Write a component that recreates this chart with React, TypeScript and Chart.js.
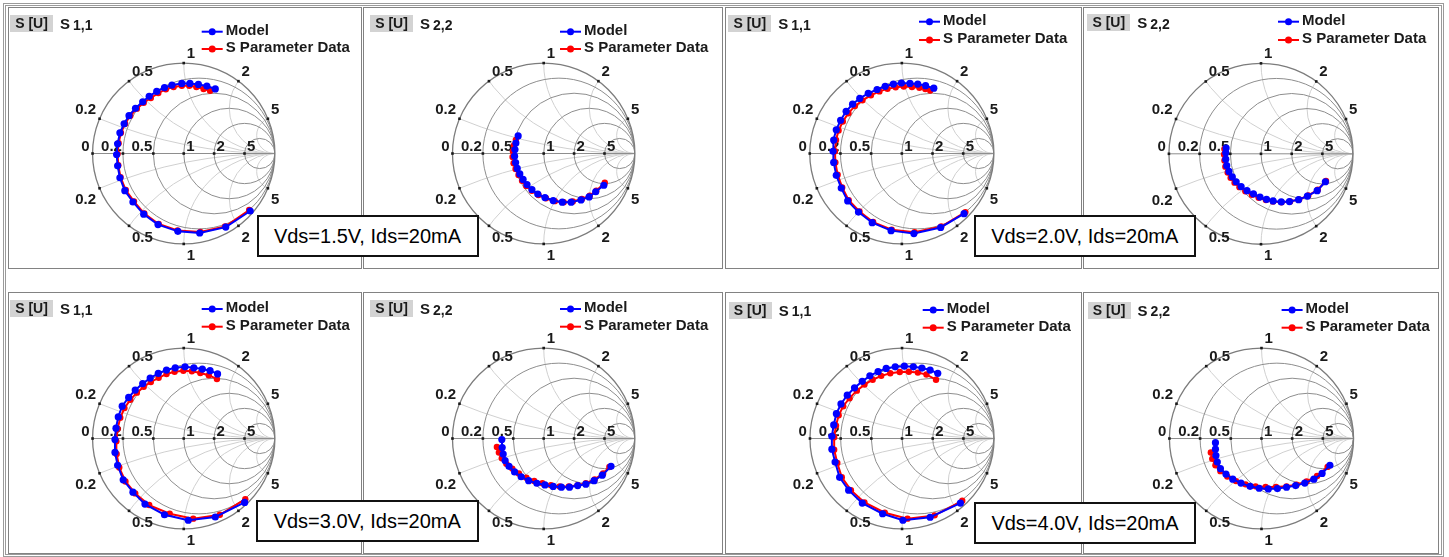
import { useEffect, useRef } from "react";
import { Chart, registerables } from "chart.js";

Chart.register(...registerables);

// reflection coefficients, [re, im]
type Pt = [number, number];

// Vds = 1.5 V
const s11Model15: Pt[] = [
  [0.729, -0.636], [0.461, -0.814], [0.175, -0.879], [-0.064, -0.861], [-0.282, -0.786],
  [-0.439, -0.671], [-0.557, -0.536], [-0.646, -0.411], [-0.7, -0.268], [-0.725, -0.136],
  [-0.736, -0.011], [-0.725, 0.107], [-0.7, 0.229], [-0.654, 0.329], [-0.6, 0.418],
  [-0.529, 0.5], [-0.45, 0.571], [-0.379, 0.632], [-0.296, 0.686], [-0.211, 0.729],
  [-0.129, 0.757], [-0.021, 0.775], [0.068, 0.775], [0.161, 0.764], [0.254, 0.746], [0.346, 0.714],
];
const s11Data15: Pt[] = [
  [0.718, -0.625], [0.454, -0.807], [0.182, -0.868], [-0.068, -0.85], [-0.275, -0.779],
  [-0.432, -0.664], [-0.546, -0.529], [-0.636, -0.404], [-0.693, -0.261], [-0.718, -0.129],
  [-0.725, -0.004], [-0.714, 0.114], [-0.689, 0.229], [-0.643, 0.329], [-0.586, 0.418],
  [-0.514, 0.496], [-0.439, 0.561], [-0.361, 0.614], [-0.279, 0.668], [-0.196, 0.711],
  [-0.111, 0.736], [-0.021, 0.75], [0.061, 0.75], [0.139, 0.736], [0.218, 0.714], [0.289, 0.693],
];
const s22Model15: Pt[] = [
  [0.659, -0.351], [0.57, -0.423], [0.498, -0.48], [0.409, -0.513], [0.301, -0.538],
  [0.204, -0.538], [0.104, -0.52], [0.014, -0.487], [-0.065, -0.448], [-0.129, -0.398],
  [-0.183, -0.344], [-0.226, -0.287], [-0.262, -0.226], [-0.29, -0.165], [-0.308, -0.1],
  [-0.319, -0.029], [-0.315, 0.043], [-0.305, 0.115], [-0.28, 0.194],
];
const s22Data15: Pt[] = [
  [0.67, -0.323], [0.577, -0.412], [0.505, -0.466], [0.419, -0.502], [0.319, -0.53],
  [0.219, -0.538], [0.122, -0.527], [0.025, -0.495], [-0.057, -0.459], [-0.129, -0.412],
  [-0.19, -0.358], [-0.237, -0.301], [-0.276, -0.237], [-0.308, -0.172], [-0.33, -0.108],
  [-0.341, -0.039], [-0.337, 0.025], [-0.326, 0.09], [-0.305, 0.151],
];

// Vds = 2.0 V
const s11Model20: Pt[] = [
  [0.676, -0.665], [0.421, -0.818], [0.131, -0.885], [-0.117, -0.853], [-0.322, -0.765],
  [-0.471, -0.648], [-0.588, -0.524], [-0.658, -0.382], [-0.712, -0.241], [-0.74, -0.099],
  [-0.747, 0.025], [-0.74, 0.149], [-0.712, 0.262], [-0.665, 0.368], [-0.605, 0.467],
  [-0.535, 0.545], [-0.457, 0.609], [-0.365, 0.665], [-0.269, 0.708], [-0.181, 0.743],
  [-0.092, 0.768], [-0.004, 0.779], [0.088, 0.775], [0.173, 0.768], [0.258, 0.75], [0.347, 0.722],
];
const s11Data20: Pt[] = [
  [0.69, -0.648], [0.428, -0.807], [0.138, -0.871], [-0.11, -0.842], [-0.312, -0.758],
  [-0.46, -0.641], [-0.577, -0.517], [-0.648, -0.375], [-0.697, -0.234], [-0.722, -0.099],
  [-0.726, 0.025], [-0.715, 0.149], [-0.687, 0.255], [-0.641, 0.354], [-0.58, 0.446],
  [-0.51, 0.524], [-0.428, 0.588], [-0.336, 0.644], [-0.244, 0.687], [-0.156, 0.715],
  [-0.067, 0.733], [0.021, 0.74], [0.11, 0.736], [0.191, 0.726], [0.255, 0.712], [0.308, 0.697],
];
const s22Model20: Pt[] = [
  [0.699, -0.309], [0.61, -0.408], [0.504, -0.468], [0.408, -0.507], [0.309, -0.528],
  [0.22, -0.532], [0.131, -0.521], [0.06, -0.504], [-0.011, -0.479], [-0.082, -0.443],
  [-0.152, -0.408], [-0.216, -0.362], [-0.27, -0.309], [-0.312, -0.255], [-0.348, -0.195],
  [-0.372, -0.131], [-0.383, -0.06], [-0.383, 0.011], [-0.379, 0.064],
];
const s22Data20: Pt[] = [
  [0.706, -0.301], [0.617, -0.397], [0.514, -0.461], [0.415, -0.504], [0.316, -0.528],
  [0.223, -0.535], [0.131, -0.528], [0.053, -0.511], [-0.025, -0.486], [-0.099, -0.454],
  [-0.17, -0.415], [-0.234, -0.369], [-0.287, -0.319], [-0.33, -0.266], [-0.362, -0.206],
  [-0.387, -0.142], [-0.397, -0.074], [-0.401, -0.007], [-0.397, 0.053],
];

// Vds = 3.0 V
const s11Model30: Pt[] = [
  [0.668, -0.707], [0.346, -0.868], [0.05, -0.904], [-0.211, -0.843], [-0.425, -0.725],
  [-0.557, -0.593], [-0.664, -0.457], [-0.725, -0.296], [-0.754, -0.154], [-0.754, -0.011],
  [-0.743, 0.114], [-0.718, 0.239], [-0.675, 0.357], [-0.604, 0.454], [-0.532, 0.536],
  [-0.45, 0.607], [-0.368, 0.668], [-0.279, 0.721], [-0.189, 0.757], [-0.093, 0.782],
  [0.014, 0.793], [0.111, 0.782], [0.204, 0.768], [0.289, 0.75], [0.371, 0.714],
];
const s11Data30: Pt[] = [
  [0.675, -0.671], [0.396, -0.843], [0.104, -0.886], [-0.154, -0.832], [-0.379, -0.736],
  [-0.532, -0.607], [-0.639, -0.475], [-0.707, -0.321], [-0.736, -0.171], [-0.739, -0.029],
  [-0.725, 0.107], [-0.696, 0.229], [-0.65, 0.336], [-0.586, 0.429], [-0.514, 0.507],
  [-0.439, 0.571], [-0.361, 0.625], [-0.275, 0.671], [-0.189, 0.714], [-0.1, 0.739],
  [-0.004, 0.75], [0.089, 0.743], [0.182, 0.725], [0.275, 0.7], [0.364, 0.657],
];
const s22Model30: Pt[] = [
  [0.738, -0.308], [0.642, -0.405], [0.552, -0.466], [0.462, -0.505], [0.373, -0.52],
  [0.283, -0.538], [0.194, -0.538], [0.104, -0.53], [0.014, -0.513], [-0.075, -0.495],
  [-0.165, -0.466], [-0.247, -0.423], [-0.319, -0.369], [-0.38, -0.308], [-0.423, -0.244],
  [-0.444, -0.172], [-0.455, -0.1], [-0.459, -0.011],
];
const s22Data30: Pt[] = [
  [0.72, -0.315], [0.652, -0.387], [0.559, -0.452], [0.462, -0.495], [0.373, -0.516],
  [0.276, -0.53], [0.176, -0.53], [0.079, -0.516], [-0.014, -0.495], [-0.104, -0.47],
  [-0.19, -0.434], [-0.272, -0.387], [-0.344, -0.333], [-0.409, -0.28], [-0.459, -0.219],
  [-0.491, -0.154], [-0.513, -0.093],
];

// Vds = 4.0 V
const s11Model40: Pt[] = [
  [0.634, -0.714], [0.305, -0.871], [0.01, -0.904], [-0.211, -0.832], [-0.432, -0.714],
  [-0.58, -0.571], [-0.678, -0.429], [-0.727, -0.261], [-0.762, -0.118], [-0.762, 0.025],
  [-0.742, 0.15], [-0.713, 0.275], [-0.663, 0.382], [-0.595, 0.479], [-0.516, 0.561],
  [-0.432, 0.632], [-0.349, 0.693], [-0.26, 0.739], [-0.172, 0.775], [-0.074, 0.793],
  [0.025, 0.8], [0.123, 0.793], [0.216, 0.779], [0.305, 0.757], [0.388, 0.721],
];
const s11Data40: Pt[] = [
  [0.654, -0.689], [0.354, -0.85], [0.059, -0.886], [-0.187, -0.821], [-0.408, -0.707],
  [-0.555, -0.571], [-0.654, -0.429], [-0.703, -0.271], [-0.737, -0.125], [-0.737, 0.014],
  [-0.717, 0.143], [-0.688, 0.257], [-0.639, 0.357], [-0.57, 0.446], [-0.491, 0.529],
  [-0.408, 0.596], [-0.319, 0.65], [-0.226, 0.693], [-0.128, 0.721], [-0.025, 0.736],
  [0.074, 0.739], [0.172, 0.729], [0.265, 0.707], [0.369, 0.65],
];
const s22Model40: Pt[] = [
  [0.743, -0.296], [0.658, -0.386], [0.569, -0.45], [0.47, -0.493], [0.371, -0.521],
  [0.272, -0.539], [0.173, -0.554], [0.074, -0.557], [-0.025, -0.55], [-0.124, -0.529],
  [-0.223, -0.493], [-0.312, -0.45], [-0.386, -0.393], [-0.446, -0.332], [-0.48, -0.261],
  [-0.495, -0.189], [-0.5, -0.118], [-0.5, -0.046],
];
const s22Data40: Pt[] = [
  [0.718, -0.314], [0.604, -0.414], [0.49, -0.475], [0.381, -0.511], [0.272, -0.529],
  [0.158, -0.536], [0.045, -0.536], [-0.064, -0.529], [-0.173, -0.507], [-0.277, -0.471],
  [-0.371, -0.421], [-0.446, -0.361], [-0.5, -0.296], [-0.535, -0.225], [-0.55, -0.154],
];

const seriesNames = ["Model", "S Parameter Data"];
const biasLabels = ["Vds=1.5V, Ids=20mA", "Vds=2.0V, Ids=20mA", "Vds=3.0V, Ids=20mA", "Vds=4.0V, Ids=20mA"];
const reactanceTicks = [0.2, 0.5, 1, 2, 5];
const resistanceTicks = [0, 0.2, 0.5, 1, 2, 5];

const FONT = '"Liberation Sans", Arial, sans-serif';

// page geometry of each panel (absolute px)
const panels = [
  { param: "1,1", model: s11Model15, meas: s11Data15, left: 8, top: 7, w: 354, h: 262, cx: 183.7, cy: 154, rx: 93.3, ry: 93.3, head: [10, 15], leg: [201.7, 31.7, 49] },
  { param: "2,2", model: s22Model15, meas: s22Data15, left: 363, top: 7, w: 360, h: 262, cx: 543.7, cy: 154, rx: 93.3, ry: 93.3, head: [370, 15], leg: [560, 31.7, 49] },
  { param: "1,1", model: s11Model20, meas: s11Data20, left: 725, top: 7, w: 357, h: 262, cx: 901.8, cy: 154, rx: 94.2, ry: 93.3, head: [728.3, 15], leg: [919, 21.7, 40] },
  { param: "2,2", model: s22Model20, meas: s22Data20, left: 1083, top: 7, w: 356, h: 262, cx: 1261, cy: 154.3, rx: 94.2, ry: 93.3, head: [1087.3, 14], leg: [1278, 21.7, 40] },
  { param: "1,1", model: s11Model30, meas: s11Data30, left: 8, top: 292, w: 354, h: 262, cx: 183.7, cy: 439, rx: 93.3, ry: 93.3, head: [10, 300], leg: [201.7, 309, 326.7] },
  { param: "2,2", model: s22Model30, meas: s22Data30, left: 363, top: 292, w: 360, h: 262, cx: 543.7, cy: 439, rx: 93.3, ry: 93.3, head: [370, 300], leg: [560, 309, 326.7] },
  { param: "1,1", model: s11Model40, meas: s11Data40, left: 725, top: 292, w: 357, h: 262, cx: 902, cy: 439, rx: 94.2, ry: 93.3, head: [728.7, 301.5], leg: [922.7, 310, 327.7] },
  { param: "2,2", model: s22Model40, meas: s22Data40, left: 1083, top: 292, w: 356, h: 262, cx: 1261.5, cy: 439, rx: 94.2, ry: 93.3, head: [1087.6, 301.5], leg: [1281.6, 310, 327.7] },
];

const boxes = [
  { left: 256.5, top: 215, w: 222, h: 42 },
  { left: 973.5, top: 215, w: 222.5, h: 42 },
  { left: 256, top: 500, w: 222.5, h: 42 },
  { left: 974, top: 502, w: 222, h: 42 },
];

const smithGrid = {
  id: "smithGrid",
  beforeDatasetsDraw(chart: any) {
    const { ctx } = chart;
    const X = (v: number) => chart.scales.x.getPixelForValue(v);
    const Y = (v: number) => chart.scales.y.getPixelForValue(v);
    const ux = X(1) - X(0);
    const uy = Y(0) - Y(1);
    const ring = (gx: number, gy: number, r: number) => {
      ctx.beginPath();
      ctx.ellipse(X(gx), Y(gy), ux * r, uy * r, 0, 0, Math.PI * 2);
    };

    ctx.save();
    ring(0, 0, 1);
    ctx.clip();
    ctx.lineWidth = 1;
    ctx.strokeStyle = "#d0d0d0";
    reactanceTicks.forEach((x) => {
      ring(1, 1 / x, 1 / x);
      ctx.stroke();
      ring(1, -1 / x, 1 / x);
      ctx.stroke();
    });
    ctx.strokeStyle = "#8e8e8e";
    resistanceTicks.filter((r) => r > 0).forEach((r) => {
      ring(r / (1 + r), 0, 1 / (1 + r));
      ctx.stroke();
    });
    ctx.restore();

    ctx.save();
    ctx.strokeStyle = "#8e8e8e";
    ctx.lineWidth = 1;
    ctx.beginPath();
    ctx.moveTo(X(-1), Y(0));
    ctx.lineTo(X(1), Y(0));
    ctx.stroke();
    ctx.strokeStyle = "#7c7c7c";
    ctx.lineWidth = 1.3;
    ring(0, 0, 1);
    ctx.stroke();

    ctx.fillStyle = "#1a1a1a";
    ctx.font = `bold 15px ${FONT}`;
    const dot = (x: number, y: number) => ctx.fillRect(x - 1.3, y - 1.3, 2.6, 2.6);
    reactanceTicks.forEach((x) => {
      const gx = (x * x - 1) / (x * x + 1);
      const gy = (2 * x) / (x * x + 1);
      [1, -1].forEach((s) => {
        const dx = X(gx);
        const dy = Y(s * gy);
        dot(dx, dy);
        const right = gx < -0.8;
        ctx.textAlign = right ? "right" : "left";
        ctx.fillText(String(x), dx + (right ? -3.5 : 3), s > 0 ? dy - 5 : dy + 16);
      });
    });
    resistanceTicks.forEach((r) => {
      const dx = X((r - 1) / (r + 1));
      const dy = Y(0);
      dot(dx, dy);
      const right = r < 1;
      ctx.textAlign = right ? "right" : "left";
      ctx.fillText(String(r), dx + (right ? (r === 0 ? -3 : -1) : 2.5), dy - 3);
    });
    ctx.restore();
  },
  afterDraw(chart: any) {
    const { ctx } = chart;
    const opts = chart.options.plugins.smithGrid;
    ctx.save();
    ctx.font = `bold 15px ${FONT}`;
    ctx.textAlign = "left";
    chart.data.datasets.forEach((ds: any, i: number) => {
      const y = opts.legendY[i];
      const x = opts.legendX;
      ctx.strokeStyle = ds.borderColor;
      ctx.fillStyle = ds.borderColor;
      ctx.lineWidth = 2;
      ctx.beginPath();
      ctx.moveTo(x, y);
      ctx.lineTo(x + 21, y);
      ctx.stroke();
      ctx.beginPath();
      ctx.arc(x + 10.5, y, 3.5, 0, Math.PI * 2);
      ctx.fill();
      ctx.fillStyle = "#1a1a1a";
      ctx.fillText(ds.label, x + 24, y + 3);
    });
    ctx.restore();
  },
};

function SmithPanel({ p }: { p: (typeof panels)[number] }) {
  const canvasRef = useRef<HTMLCanvasElement>(null);
  const W = p.w - 2;
  const H = p.h - 2;
  const ox = p.left + 1;
  const oy = p.top + 1;

  useEffect(() => {
    if (!canvasRef.current) return;
    const cx = p.cx - ox;
    const cy = p.cy - oy;
    const toXY = (pts: Pt[]) => pts.map(([x, y]) => ({ x, y }));

    const chart = new Chart(canvasRef.current, {
      type: "scatter",
      data: {
        datasets: [
          {
            label: seriesNames[0],
            data: toXY(p.model),
            showLine: true,
            borderColor: "#0000ff",
            backgroundColor: "#0000ff",
            borderWidth: 2,
            pointRadius: 3.6,
            pointBorderWidth: 0,
          },
          {
            label: seriesNames[1],
            data: toXY(p.meas),
            showLine: true,
            borderColor: "#ff0000",
            backgroundColor: "#ff0000",
            borderWidth: 2,
            pointRadius: 3.2,
            pointBorderWidth: 0,
          },
        ],
      },
      options: {
        animation: false,
        responsive: true,
        maintainAspectRatio: false,
        layout: { padding: 0 },
        scales: {
          x: { type: "linear", display: false, min: -cx / p.rx, max: (W - cx) / p.rx },
          y: { type: "linear", display: false, min: -(H - cy) / p.ry, max: cy / p.ry },
        },
        plugins: {
          legend: { display: false },
          tooltip: { enabled: false },
          smithGrid: { legendX: p.leg[0] - ox, legendY: [p.leg[1] - oy, p.leg[2] - oy] },
        } as any,
      },
      plugins: [smithGrid],
    });

    return () => {
      chart.destroy();
    };
  }, []);

  return (
    <div
      style={{
        position: "absolute",
        left: p.left,
        top: p.top,
        width: W,
        height: H,
        border: "1px solid #828282",
        background: "#fff",
      }}
    >
      <div style={{ position: "absolute", left: 0, top: 0, width: W, height: H }}>
        <canvas ref={canvasRef} />
      </div>
      <div
        style={{
          position: "absolute",
          left: p.head[0] - ox,
          top: p.head[1] - oy,
          display: "flex",
          alignItems: "center",
          fontFamily: FONT,
          fontWeight: "bold",
          color: "#1a1a1a",
          whiteSpace: "nowrap",
        }}
      >
        <span
          style={{
            background: "#d3d3d3",
            width: 43,
            height: 17,
            lineHeight: "17px",
            fontSize: 14,
            textAlign: "center",
          }}
        >
          S [U]
        </span>
        <span style={{ marginLeft: 7, fontSize: 15, lineHeight: "17px" }}>S</span>
        <span style={{ marginLeft: 3, fontSize: 14, lineHeight: "17px", position: "relative", top: 1.5 }}>{p.param}</span>
      </div>
    </div>
  );
}

export default function App() {
  return (
    <div style={{ position: "absolute", left: 0, top: 0, width: 1449, height: 557, background: "#fff" }}>
      <div
        style={{
          position: "absolute",
          left: 3,
          top: 3,
          width: 1435,
          height: 548,
          border: "3px double #9a9a9a",
        }}
      />
      {panels.map((p, i) => (
        <SmithPanel key={i} p={p} />
      ))}
      {boxes.map((b, i) => (
        <div
          key={i}
          style={{
            position: "absolute",
            left: b.left,
            top: b.top,
            width: b.w - 4,
            height: b.h - 4,
            border: "2px solid #111",
            background: "#fff",
            display: "flex",
            alignItems: "center",
            justifyContent: "center",
            fontFamily: FONT,
            fontSize: 20,
            color: "#000",
            whiteSpace: "nowrap",
          }}
        >
          {biasLabels[i]}
        </div>
      ))}
    </div>
  );
}
